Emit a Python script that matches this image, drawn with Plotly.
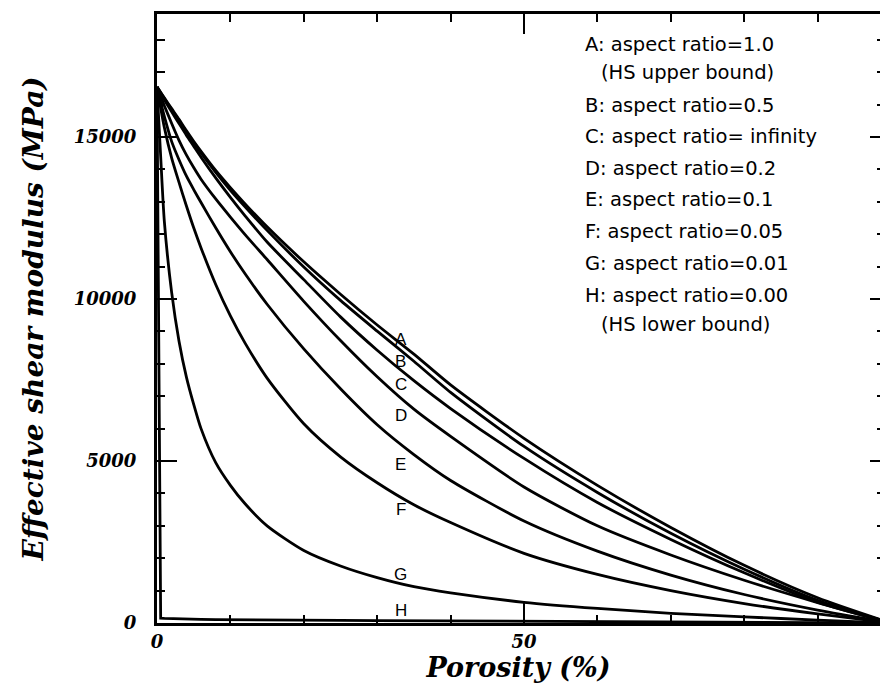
import plotly.graph_objects as go

# Porosity (%) sample points
porosity = [0, 0.5, 1, 2, 3, 4, 5, 6, 8, 10, 12, 15, 20, 25, 30, 35, 40, 50, 60, 70, 80, 90, 100]

# Effective shear modulus (MPa) for each aspect ratio
mu_A = [16550, 16380, 16210, 15880, 15550, 15200, 14870, 14560, 13970, 13440, 12940, 12230,
        11150, 10150, 9200, 8300, 7350, 5700, 4250, 2950, 1780, 780, 0]
mu_B = [16550, 16370, 16190, 15850, 15510, 15160, 14830, 14510, 13910, 13360, 12850, 12120,
        10990, 9960, 9010, 8080, 7120, 5450, 4030, 2770, 1660, 700, 0]
mu_C = [16550, 16350, 16150, 15780, 15420, 15060, 14720, 14380, 13740, 13140, 12570, 11760,
        10600, 9450, 8420, 7480, 6620, 5080, 3720, 2580, 1550, 640, 0]
mu_D = [16550, 16250, 15970, 15420, 14900, 14450, 14060, 13700, 13090, 12530, 11990, 11220,
        9930, 8720, 7600, 6600, 5760, 4200, 3000, 2100, 1320, 630, 0]
mu_E = [16550, 16080, 15640, 14860, 14300, 13800, 13380, 12980, 12200, 11460, 10780, 9840,
        8460, 7230, 6120, 5200, 4400, 3150, 2220, 1480, 880, 400, 0]
mu_F = [16550, 15900, 15300, 14350, 13600, 12880, 12200, 11580, 10450, 9480, 8640, 7560,
        6150, 5130, 4330, 3650, 3100, 2150, 1500, 1000, 600, 280, 0]
mu_G = [16550, 14400, 12400, 10200, 8700, 7600, 6750, 6000, 4950, 4250, 3680, 3000,
        2240, 1760, 1400, 1120, 930, 640, 450, 300, 190, 90, 0]
mu_H = [16550, 150, 140, 130, 125, 120, 115, 110, 105, 100, 95, 90,
        85, 80, 75, 70, 65, 55, 45, 35, 25, 12, 0]

curve_letters = ["A", "B", "C", "D", "E", "F", "G", "H"]
curve_values = [mu_A, mu_B, mu_C, mu_D, mu_E, mu_F, mu_G, mu_H]

# Letter labels placed on the curves near porosity 33 %
label_porosity = 33.2
label_values = [8740, 8060, 7350, 6420, 4880, 3490, 1510, 400]

legend_lines = [
    "A: aspect ratio=1.0",
    "(HS upper bound)",
    "B: aspect ratio=0.5",
    "C: aspect ratio= infinity",
    "D: aspect ratio=0.2",
    "E: aspect ratio=0.1",
    "F: aspect ratio=0.05",
    "G: aspect ratio=0.01",
    "H: aspect ratio=0.00",
    "(HS lower bound)",
]
legend_indent = [False, True, False, False, False, False, False, False, False, True]
legend_pixel_y = [44, 72, 105, 136, 168, 200, 231, 263, 295, 325]

W, H = 880, 685
ML, MR, MT, MB = 157, 0, 14, 62
plot_w = W - ML - MR
plot_h = H - MT - MB

serif_bi = dict(family="DejaVu Serif", color="black", weight="bold", style="italic")

fig = go.Figure()
for letter, vals in zip(curve_letters, curve_values):
    fig.add_trace(go.Scatter(
        x=porosity, y=vals, mode="lines", name=letter,
        line=dict(color="black", width=2.8,
                  shape="linear" if letter == "H" else "spline",
                  smoothing=0.7 if letter != "H" else None),
        showlegend=False, hoverinfo="skip",
    ))
# helper trace for the right-hand tick axis
fig.add_trace(go.Scatter(x=[None], y=[None], yaxis="y2", showlegend=False, hoverinfo="skip"))

annotations = []
for letter, yv in zip(curve_letters, label_values):
    annotations.append(dict(x=label_porosity, y=yv, xref="x", yref="y", text=letter,
                            showarrow=False, xanchor="center", yanchor="middle",
                            font=dict(family="Liberation Sans", size=17, color="black")))
for txt, ind, py in zip(legend_lines, legend_indent, legend_pixel_y):
    px = 599 if ind else 583
    annotations.append(dict(x=(px - ML) / plot_w, y=(H - MB - py) / plot_h,
                            xref="paper", yref="paper", text=txt, showarrow=False,
                            xanchor="left", yanchor="middle",
                            font=dict(family="DejaVu Sans", size=19.5, color="black")))

yrange = [0, 18800]
fig.update_layout(
    width=W, height=H,
    margin=dict(l=ML, r=MR, t=MT, b=MB, pad=0),
    paper_bgcolor="white", plot_bgcolor="white",
    annotations=annotations,
    xaxis=dict(
        range=[0, 98.5], tickmode="linear", tick0=0, dtick=50,
        ticks="inside", ticklen=20, tickwidth=2, tickcolor="black",
        minor=dict(tickmode="linear", tick0=0, dtick=10, ticks="inside", ticklen=8,
                   tickwidth=1.5, tickcolor="black", showgrid=False),
        showline=True, linewidth=3, linecolor="black", mirror="ticks",
        showgrid=False, zeroline=False, automargin=False,
        tickfont=dict(size=18, **serif_bi), ticklabelstandoff=0,
        title=dict(text="Porosity (%)", font=dict(size=27, **serif_bi), standoff=0),
    ),
    yaxis=dict(
        range=yrange, tickmode="linear", tick0=0, dtick=5000, tickformat="d",
        ticks="inside", ticklen=20, tickwidth=2, tickcolor="black",
        minor=dict(tickmode="linear", tick0=0, dtick=1000, ticks="inside", ticklen=8,
                   tickwidth=1.5, tickcolor="black", showgrid=False),
        showline=True, linewidth=3, linecolor="black", mirror=False,
        showgrid=False, zeroline=False, automargin=False,
        tickfont=dict(size=18, **serif_bi), ticklabelstandoff=14,
        title=dict(text="Effective shear modulus (MPa)", font=dict(size=28, **serif_bi),
                   standoff=22),
    ),
    yaxis2=dict(
        range=yrange, overlaying="y", side="right", anchor="x",
        tickmode="linear", tick0=0, dtick=5000,
        ticks="inside", ticklen=10, tickwidth=2, tickcolor="black",
        minor=dict(tickmode="linear", tick0=0, dtick=1000, ticks="inside", ticklen=3,
                   tickwidth=1.5, tickcolor="black", showgrid=False),
        showline=False, showgrid=False, zeroline=False, showticklabels=False,
        automargin=False,
    ),
)

fig.write_html("out.html", config={"displayModeBar": False},
               post_script="document.body.style.margin='0';")
